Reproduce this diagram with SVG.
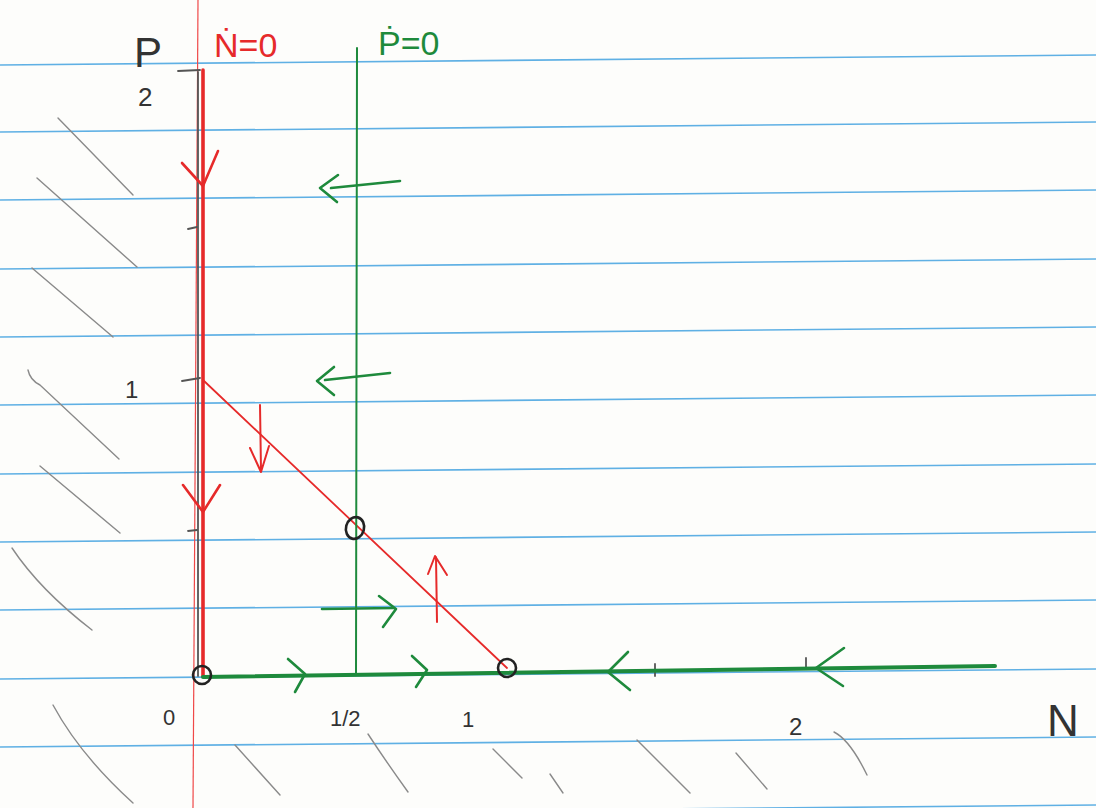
<svg xmlns="http://www.w3.org/2000/svg" width="1096" height="808" viewBox="0 0 1096 808">
<defs>
<style>
.rule{stroke:#5fb0e4;stroke-width:1.6;fill:none}
.hatch{stroke:#8a8a8a;stroke-width:1.4;fill:none;stroke-linecap:round}
.pencil{stroke:#555;stroke-width:1.8;fill:none;stroke-linecap:round}
.red{stroke:#e62a2a;fill:none;stroke-linecap:round;stroke-linejoin:round}
.green{stroke:#1e8a3c;fill:none;stroke-linecap:round;stroke-linejoin:round}
.eq{stroke:#222;stroke-width:2.6;fill:none}
.lbl{font-family:"Liberation Sans",Arial,sans-serif;fill:#333}
</style>
</defs>
<rect width="1096" height="808" fill="#fdfdfb"/>
<g id="paper">
<line class="rule" x1="0" y1="65" x2="1096" y2="55"/>
<line class="rule" x1="0" y1="132" x2="1096" y2="122"/>
<line class="rule" x1="0" y1="200" x2="1096" y2="190"/>
<line class="rule" x1="0" y1="269" x2="1096" y2="259"/>
<line class="rule" x1="0" y1="337" x2="1096" y2="327"/>
<line class="rule" x1="0" y1="405" x2="1096" y2="395"/>
<line class="rule" x1="0" y1="474" x2="1096" y2="464"/>
<line class="rule" x1="0" y1="542" x2="1096" y2="532"/>
<line class="rule" x1="0" y1="610" x2="1096" y2="600"/>
<line class="rule" x1="0" y1="679" x2="1096" y2="669"/>
<line class="rule" x1="0" y1="747" x2="1096" y2="737"/>
<line class="rule" x1="0" y1="815" x2="1096" y2="805"/>
<line x1="198" y1="0" x2="193" y2="808" stroke="#f04848" stroke-width="1.2"/>
</g>
<g id="hatching">
<path class="hatch" d="M58 118 L133 195"/>
<path class="hatch" d="M37 178 L137 267"/>
<path class="hatch" d="M32 268 L113 337"/>
<path class="hatch" d="M28 370 Q30 380 40 385 L119 459"/>
<path class="hatch" d="M40 466 L120 533"/>
<path class="hatch" d="M12 548 Q40 590 92 630"/>
<path class="hatch" d="M53 705 Q80 755 133 803"/>
<path class="hatch" d="M235 745 L280 795"/>
<path class="hatch" d="M368 734 Q385 760 408 792"/>
<path class="hatch" d="M493 749 L522 778"/>
<path class="hatch" d="M550 774 L563 793"/>
<path class="hatch" d="M637 740 L690 793"/>
<path class="hatch" d="M736 753 L767 789"/>
<path class="hatch" d="M834 732 Q850 740 867 775"/>
</g>
<g id="axes">
<line class="pencil" x1="198" y1="72" x2="198" y2="676"/>
<line class="pencil" x1="178" y1="71" x2="200" y2="70"/>
<line class="pencil" x1="188" y1="229" x2="197" y2="227"/>
<line class="pencil" x1="182" y1="381" x2="200" y2="378"/>
<line class="pencil" x1="188" y1="531" x2="197" y2="530"/>
<line class="pencil" x1="655" y1="664" x2="655" y2="676"/>
<line class="pencil" x1="806" y1="658" x2="806" y2="668"/>
</g>
<g id="nullcline-n">
<line class="red" x1="203" y1="70" x2="203" y2="676" stroke-width="3.6"/>
<line class="red" x1="203" y1="380" x2="507" y2="668" stroke-width="1.8"/>
</g>
<g id="nullcline-p">
<line class="green" x1="357" y1="48" x2="356" y2="675" stroke-width="2"/>
<line class="green" x1="203" y1="677" x2="995" y2="666" stroke-width="4"/>
</g>
<g id="connectors">
<path class="red" stroke-width="2.6" d="M182 163 L203 186 L218 151"/>
<path class="red" stroke-width="2.6" d="M183 485 L203 512 L220 485"/>
<path class="red" stroke-width="2" d="M260 405 L261 471 M250 448 L261 472 L269 446"/>
<path class="red" stroke-width="2" d="M437 622 L436 557 M428 574 L435 556 L447 575"/>
<path class="green" stroke-width="2.6" d="M400 181 L331 188 M338 175 L320 188 L337 202"/>
<path class="green" stroke-width="2.6" d="M390 373 L325 380 M334 367 L317 381 L334 395"/>
<path class="green" stroke-width="2.6" d="M322 609 L394 608 M379 596 L396 609 L383 627"/>
<path class="green" stroke-width="2.6" d="M288 659 L305 674 L295 692"/>
<path class="green" stroke-width="2.6" d="M412 656 L427 670 L416 687"/>
<path class="green" stroke-width="2.6" d="M628 652 L608 672 L630 690"/>
<path class="green" stroke-width="2.6" d="M844 648 L816 668 L843 686"/>
</g>
<g id="eq-origin"><circle class="eq" cx="202" cy="675" r="9"/></g>
<g id="eq-interior"><ellipse class="eq" cx="355" cy="528" rx="9" ry="11" transform="rotate(15 355 528)"/></g>
<g id="eq-n1"><circle class="eq" cx="507" cy="668" r="9"/></g>
<g id="labels">
<text class="lbl" x="134" y="67" font-size="42" fill="#222">P</text>
<text class="lbl" x="138" y="106" font-size="26" fill="#444">2</text>
<text class="lbl" x="125" y="398" font-size="24" fill="#333">1</text>
<text class="lbl" x="163" y="725" font-size="22" fill="#333">0</text>
<text class="lbl" x="330" y="726" font-size="22" fill="#333">1/2</text>
<text class="lbl" x="462" y="727" font-size="22" fill="#333">1</text>
<text class="lbl" x="789" y="735" font-size="24" fill="#444">2</text>
<text class="lbl" x="1047" y="736" font-size="44" fill="#222">N</text>
<text x="214" y="57" font-family="Liberation Sans,Arial,sans-serif" font-size="34" fill="#e62a2a">Ṅ=0</text>
<text x="378" y="55" font-family="Liberation Sans,Arial,sans-serif" font-size="34" fill="#1e8a3c">Ṗ=0</text>
</g>
</svg>
